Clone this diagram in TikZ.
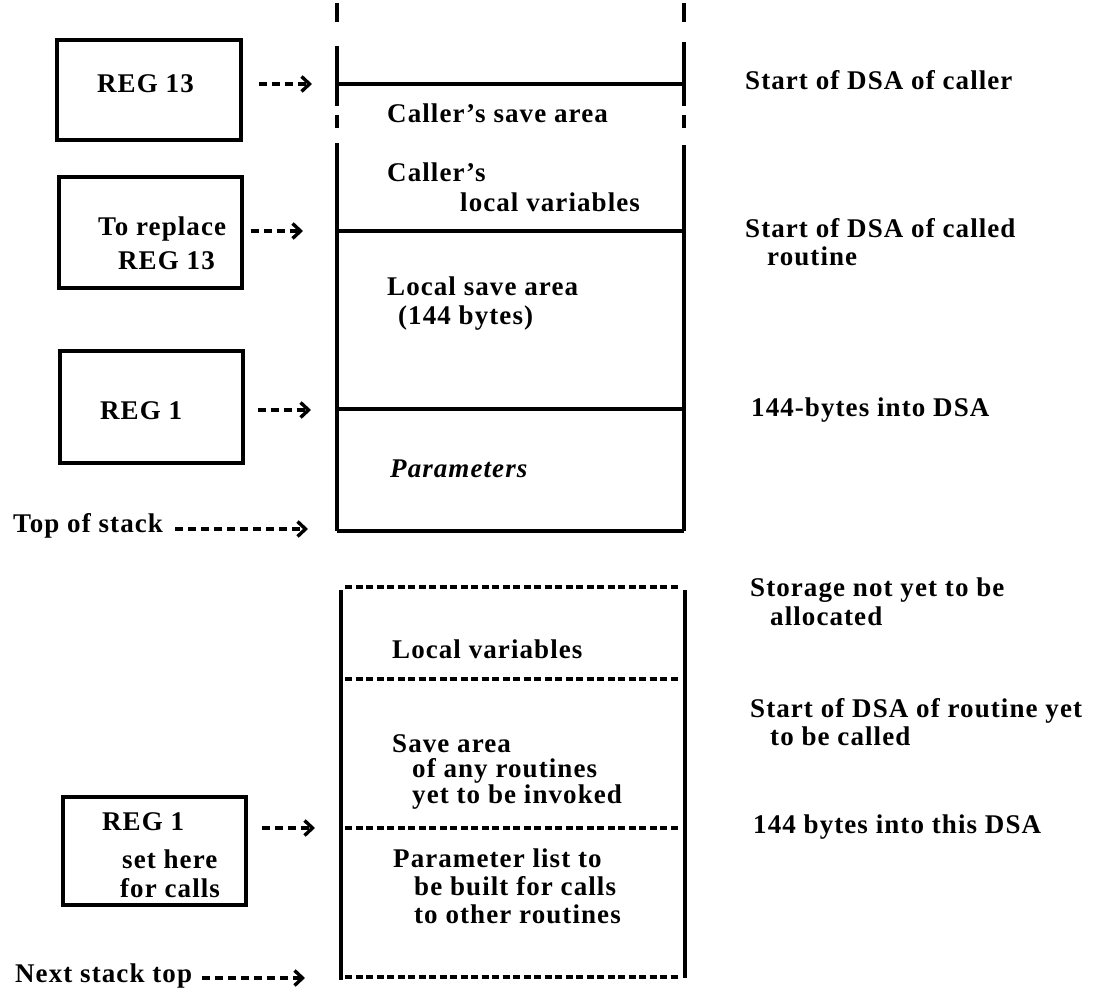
\documentclass[tikz,border=0pt]{standalone}
\usepackage{fontspec}
\setmainfont{Liberation Serif}[LetterSpace=4]
\usetikzlibrary{arrows.meta}
\begin{document}
\begin{tikzpicture}[x=1pt,y=-1pt,
  every node/.style={font=\fontsize{27}{30}\selectfont\bfseries, inner sep=0pt},
  lbl/.style={anchor=base west},
  regbox/.style={draw, line width=3.4pt, minimum width=183pt},
  wall/.style={line width=3.4pt},
  dsep/.style={line width=3.4pt, dash pattern=on 7pt off 3.5pt},
  ptr/.style={line width=3.4pt, dash pattern=on 8pt off 5pt,
    -{Straight Barb[length=8pt,width=15pt,line width=3.4pt]}}]
\useasboundingbox (0,0) rectangle (1101,992);

% ---------- current stack frame (upper column) ----------
% left wall, broken at the top
\draw[wall] (337,3) -- (337,22);
\draw[wall] (337,46) -- (337,106);
\draw[wall] (337,115) -- (337,128);
\draw[wall] (337,143) -- (337,531);
% right wall, broken at the top
\draw[wall] (684,3) -- (684,22);
\draw[wall] (684,42) -- (684,106);
\draw[wall] (684,115) -- (684,128);
\draw[wall] (684,145) -- (684,531);
% boundaries
\draw[wall] (337,84) -- (684,84);
\draw[wall] (337,231) -- (684,231);
\draw[wall] (337,409) -- (684,409);
\draw[wall] (337,531) -- (684,531);

\coordinate (p1) at (337,84);
\coordinate (p2) at (337,231);
\coordinate (p3) at (337,410);
\coordinate (p4) at (337,529);

\node[lbl] (csave) at (387,123) {Caller's save area};
\node[lbl] (clocA) at (387,182) {Caller's};
\node[lbl] (clocB) at (460,212) {local variables};
\node[lbl] (lsaveA) at (387,296) {Local save area};
\node[lbl] (lsaveB) at (398,325) {(144 bytes)};
\node[lbl] (parms) at (390,477) {\itshape Parameters};

% ---------- frame yet to be built (lower column) ----------
\draw[wall] (341,590) -- (341,980);
\draw[wall] (685,590) -- (685,978);
\draw[dsep] (345,587) -- (681,587);
\draw[dsep] (345,679) -- (681,679);
\draw[dsep] (345,828) -- (681,828);
\draw[dsep] (345,977) -- (681,977);

\coordinate (q1) at (341,828);
\coordinate (q2) at (341,978);

\node[lbl] (lvars) at (392,658) {Local variables};
\node[lbl] (savA) at (392,752) {Save area};
\node[lbl] (savB) at (412,777) {of any routines};
\node[lbl] (savC) at (412,803) {yet to be invoked};
\node[lbl] (plA) at (393,867) {Parameter list to};
\node[lbl] (plB) at (414,895) {be built for calls};
\node[lbl] (plC) at (414,923) {to other routines};

% ---------- registers ----------
\node[regbox, minimum width=184pt, minimum height=100pt] (reg13) at (149,90) {};
\node[lbl] (reg13t) at (97,93) {REG 13};
\node[regbox, minimum height=111pt] (repl) at (150.5,232.5) {};
\node[lbl] (replA) at (98,236) {To replace};
\node[lbl] (replB) at (118,270) {REG 13};
\node[regbox, minimum height=112pt] (reg1) at (151.5,407) {};
\node[lbl] (reg1t) at (100,420) {REG 1};
\node[regbox, minimum height=108pt] (reg1n) at (154.5,851) {};
\node[lbl] (reg1nA) at (102,830) {REG 1};
\node[lbl] (reg1nB) at (122,868) {set here};
\node[lbl] (reg1nC) at (120,897) {for calls};

\node[lbl] (tos) at (13,532) {Top of stack};
\node[lbl] (nst) at (15,982) {Next stack top};

% ---------- pointers ----------
\draw[ptr, shorten <=16pt, shorten >=25pt] (reg13.east |- p1) -- (p1);
\draw[ptr, shorten <=7pt, shorten >=34pt] (repl.east |- p2) -- (p2);
\draw[ptr, shorten <=13pt, shorten >=26pt] (reg1.east |- p3) -- (p3);
\draw[ptr, shorten <=14pt, shorten >=26pt] (reg1n.east |- q1) -- (q1);
\draw[ptr, shorten <=12pt, shorten >=29pt] (tos.east |- p4) -- (p4);
\draw[ptr, shorten <=10pt, shorten >=36pt] (nst.east |- q2) -- (q2);

% ---------- notes on the right ----------
\node[lbl] (n1) at (745,90) {Start of DSA of caller};
\node[lbl] (n2a) at (745,238) {Start of DSA of called};
\node[lbl] (n2b) at (767,266) {routine};
\node[lbl] (n3) at (751,417) {144-bytes into DSA};
\node[lbl] (n4a) at (750,596) {Storage not yet to be};
\node[lbl] (n4b) at (770,625) {allocated};
\node[lbl] (n5a) at (750,717) {Start of DSA of routine yet};
\node[lbl] (n5b) at (770,745) {to be called};
\node[lbl] (n6) at (753,833) {144 bytes into this DSA};
\end{tikzpicture}
\end{document}
